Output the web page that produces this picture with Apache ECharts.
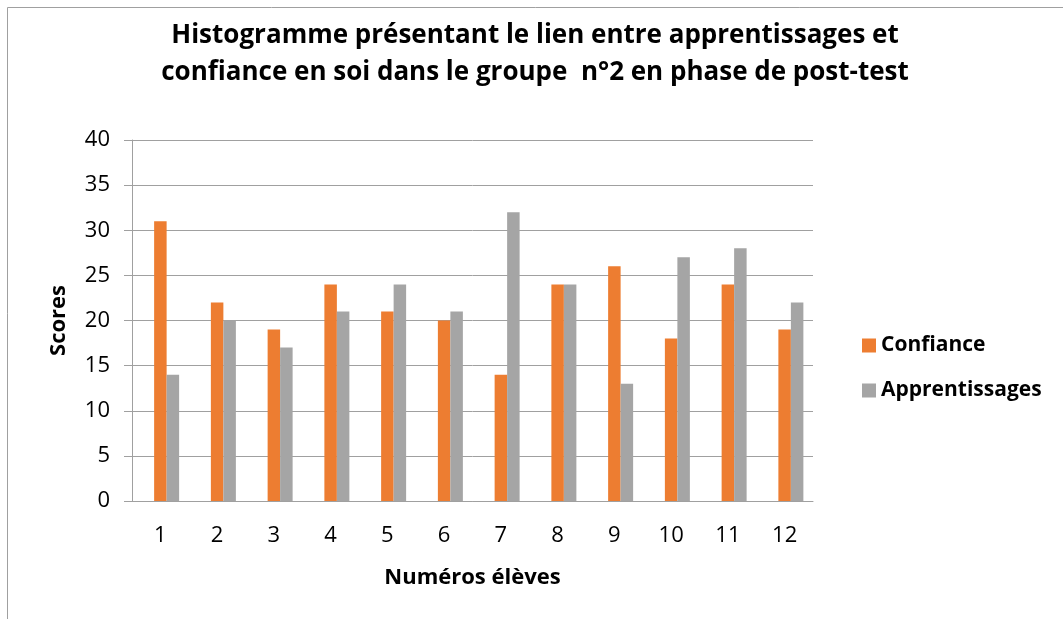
<!DOCTYPE html>
<html>
<head>
<meta charset="utf-8">
<script src="https://cdn.jsdelivr.net/npm/echarts@6/dist/echarts.min.js"></script>
<style>
  html, body { margin: 0; padding: 0; background: #fff; }
  #main { width: 1063px; height: 619px; }
</style>
</head>
<body>
<div id="main"></div>
<script>
const eleves = ['1', '2', '3', '4', '5', '6', '7', '8', '9', '10', '11', '12']
const confiance = [31, 22, 19, 24, 21, 20, 14, 24, 26, 18, 24, 19]
const apprentissages = [14, 20, 17, 21, 24, 21, 32, 24, 13, 27, 28, 22]

const font = "'Open Sans', 'Liberation Sans', sans-serif"

let myChart = echarts.init(document.getElementById('main'))
let option = {
  animation: false,
  textStyle: { fontFamily: font },
  graphic: [
    {
      type: 'rect',
      shape: { x: 7.5, y: 7.5, width: 1100, height: 700 },
      style: { fill: 'none', stroke: '#a0a0a0', lineWidth: 1 }
    }
  ],
  title: {
    text: 'Histogramme présentant le lien entre apprentissages et\nconfiance en soi dans le groupe  n°2 en phase de post-test',
    left: 530,
    textAlign: 'center',
    top: 12,
    textStyle: {
      fontFamily: font,
      fontSize: 26,
      fontWeight: 'bold',
      color: '#000',
      lineHeight: 37
    }
  },
  legend: {
    orient: 'vertical',
    left: 857,
    top: 330,
    itemWidth: 14,
    itemHeight: 14,
    itemGap: 24,
    icon: 'rect',
    textStyle: { fontFamily: font, fontSize: 21, fontWeight: 'bold', color: '#000' },
    data: ['Confiance', 'Apprentissages']
  },
  grid: {
    left: 132,
    right: 250,
    top: 140,
    bottom: 118
  },
  xAxis: {
    type: 'category',
    data: eleves,
    name: 'Numéros élèves',
    nameLocation: 'middle',
    nameGap: 66,
    nameTextStyle: { fontFamily: font, fontSize: 22, fontWeight: 'bold', color: '#000' },
    axisLine: { lineStyle: { color: '#a0a0a0' } },
    axisTick: { show: false },
    axisLabel: { fontFamily: font, fontSize: 22, color: '#000', margin: 24 }
  },
  yAxis: {
    type: 'value',
    min: 0,
    max: 40,
    interval: 5,
    name: 'Scores',
    nameLocation: 'middle',
    nameGap: 62,
    nameTextStyle: { fontFamily: font, fontSize: 22, fontWeight: 'bold', color: '#000' },
    axisLine: { show: true, lineStyle: { color: '#a0a0a0' } },
    axisTick: { show: true, length: 8, lineStyle: { color: '#a0a0a0' } },
    axisLabel: { fontFamily: font, fontSize: 22, color: '#000', margin: 22 },
    splitLine: { lineStyle: { color: '#a0a0a0' } }
  },
  series: [
    {
      // empty slot: the original chart keeps room for a third, blank series
      name: '',
      type: 'bar',
      data: [],
      barWidth: 12.5,
      barGap: '0%'
    },
    {
      name: 'Confiance',
      type: 'bar',
      data: confiance,
      barWidth: 12.5,
      itemStyle: { color: '#ed7d31' }
    },
    {
      name: 'Apprentissages',
      type: 'bar',
      data: apprentissages,
      barWidth: 12.5,
      itemStyle: { color: '#a5a5a5' }
    }
  ]
}
myChart.setOption(option)
</script>
</body>
</html>
